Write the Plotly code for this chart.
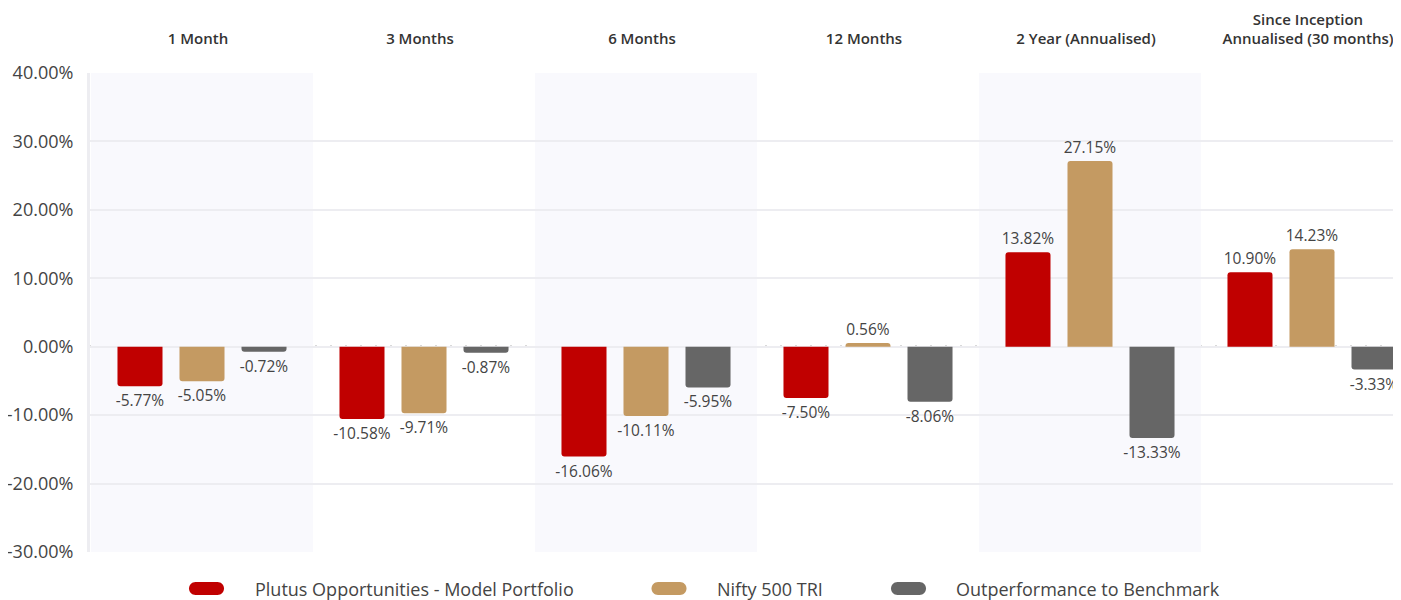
import plotly.graph_objects as go

categories = ["1 Month", "3 Months", "6 Months", "12 Months", "2 Year (Annualised)",
              "Since Inception<br>Annualised (30 months)"]
series_names = ["Plutus Opportunities - Model Portfolio", "Nifty 500 TRI", "Outperformance to Benchmark"]
plutus = [-5.77, -10.58, -16.06, -7.50, 13.82, 10.90]
nifty = [-5.05, -9.71, -10.11, 0.56, 27.15, 14.23]
outperf = [-0.72, -0.87, -5.95, -8.06, -13.33, -3.33]
colors = ["#C00000", "#C49A62", "#666666"]
y_ticks = [-30, -20, -10, 0, 10, 20, 30, 40]

FONT = "Open Sans"
# page has an 8px body margin; figure placed at (8, 8)
OFF = 8
fig = go.Figure()
for name, vals, col in zip(series_names, [plutus, nifty, outperf], colors):
    fig.add_trace(go.Bar(
        x=categories, y=vals, name=name, marker=dict(color=col, line=dict(width=0)),
        text=[f"{v:.2f}%" for v in vals], textposition="outside",
        textfont=dict(family=FONT, size=15.5, color="#444"),
        constraintext="none", cliponaxis=False, showlegend=False,
    ))

shapes = []
for i in range(0, len(categories), 2):
    shapes.append(dict(type="rect", xref="x", yref="y", x0=i - 0.5, x1=i + 0.5,
                       y0=-30, y1=40, fillcolor="#f9f9fd", line=dict(width=0), layer="below"))
shapes.append(dict(type="line", xref="paper", yref="y", x0=0, x1=1, y0=0, y1=0,
                   line=dict(color="#b4b4b4", width=2.5, dash="2px,13px"), layer="below"))

pill = ("M -11,-6.5 L 11,-6.5 C 14.6,-6.5 17.5,-3.6 17.5,0 C 17.5,3.6 14.6,6.5 11,6.5 "
        "L -11,6.5 C -14.6,6.5 -17.5,3.6 -17.5,0 C -17.5,-3.6 -14.6,-6.5 -11,-6.5 Z")
plot_l, plot_w, plot_b, plot_h = 90, 1311, 552, 479
leg_y = -(588.5 - plot_b) / plot_h
leg_items = [(206.5, 253), (669, 715), (908.5, 954)]
annotations = []
for (mx, tx), name, col in zip(leg_items, series_names, colors):
    shapes.append(dict(type="path", xref="paper", yref="paper", xsizemode="pixel", ysizemode="pixel",
                       xanchor=(mx - plot_l) / plot_w, yanchor=leg_y, path=pill,
                       fillcolor=col, line=dict(width=0)))
    annotations.append(dict(xref="paper", yref="paper", x=(tx - plot_l) / plot_w, y=leg_y,
                            xanchor="left", yanchor="middle", text=name, showarrow=False,
                            font=dict(family=FONT, size=18, color="#444")))

cat_px = 222.0
x0_range = -(202 - plot_l) / cat_px
x1_range = x0_range + plot_w / cat_px

fig.update_layout(
    width=1401 - OFF, height=600 - OFF,
    margin=dict(l=plot_l - OFF, r=0, t=73 - OFF, b=600 - plot_b),
    paper_bgcolor="white", plot_bgcolor="white",
    barmode="group", bargap=0.162, bargroupgap=0.274, barcornerradius=3,
    shapes=shapes, annotations=annotations, showlegend=False,
    xaxis=dict(side="top", range=[x0_range, x1_range], showgrid=False, zeroline=False,
               ticks="outside", ticklen=22, tickcolor="rgba(0,0,0,0)", ticklabelshift=-4,
               tickfont=dict(family=FONT, size=15, color="#333", weight=600),
               showline=False, fixedrange=True),
    yaxis=dict(range=[-30, 40], tickvals=y_ticks, ticktext=[f"{v:.2f}%" for v in y_ticks],
               showgrid=True, gridcolor="#ededf1", gridwidth=2, zeroline=False,
               showline=True, linecolor="#ededf1", linewidth=3,
               ticks="outside", ticklen=10, tickcolor="rgba(0,0,0,0)",
               tickfont=dict(family=FONT, size=18, color="#444")),
)

fig.write_html("out.html")
